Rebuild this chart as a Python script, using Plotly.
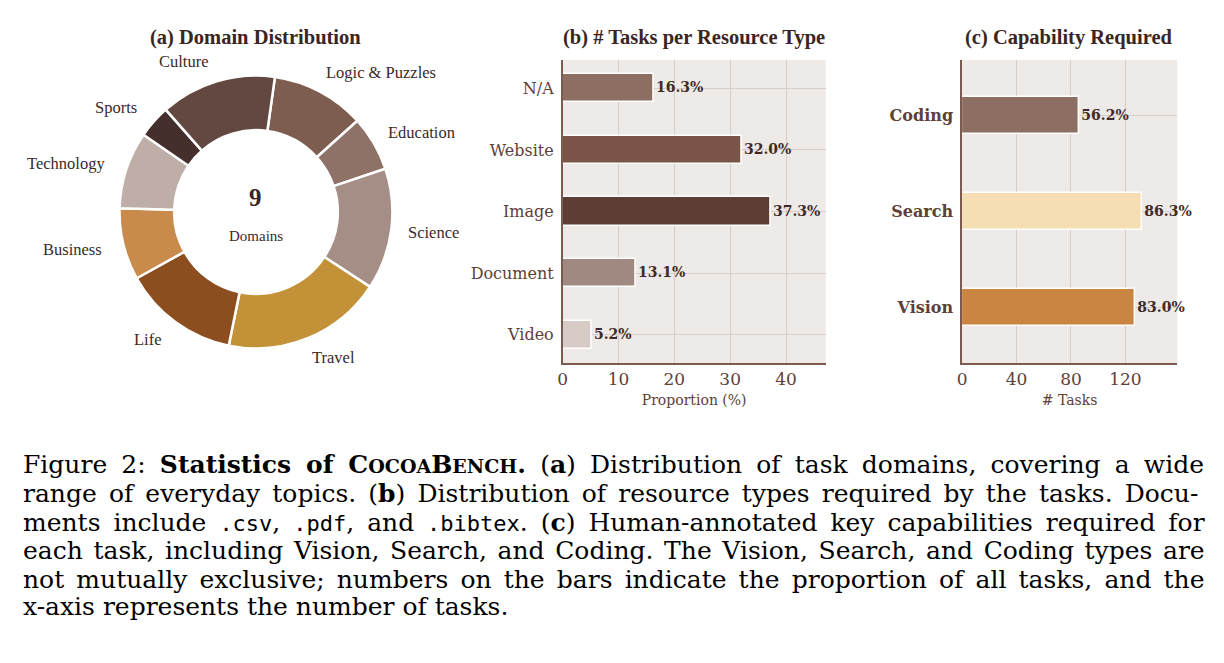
import math
import plotly.graph_objects as go

# ---------------- data ----------------
domains = ["Logic & Puzzles", "Education", "Science", "Travel", "Life",
           "Business", "Technology", "Sports", "Culture"]
domain_counts = [17, 10, 22, 29, 21, 13, 14, 6, 21]
domain_colors = ["#7E5D51", "#8E7268", "#A58E85", "#C29138", "#8C4E1F",
                 "#C98B4B", "#BFADA7", "#452F2D", "#634842"]
n_domains = "9"

resource_types = ["N/A", "Website", "Image", "Document", "Video"]
resource_pct = [16.3, 32.0, 37.3, 13.1, 5.2]
resource_labels = ["16.3%", "32.0%", "37.3%", "13.1%", "5.2%"]
resource_colors = ["#8C6E63", "#7A5447", "#5C3E36", "#A08980", "#D8CBC6"]
resource_ticks = [0, 10, 20, 30, 40]

capabilities = ["Coding", "Search", "Vision"]
capability_tasks = [86, 132, 127]
capability_labels = ["56.2%", "86.3%", "83.0%"]
capability_colors = ["#8C6E63", "#F5DEB3", "#C98541"]
capability_ticks = [0, 40, 80, 120]

MONO = "<span style='font-family:DejaVu Sans Mono;font-size:22px'>{}</span>"
SC = "<span style='font-size:19px'>{}</span>"
caption_lines = [
    "Figure 2: <b>Statistics of C" + SC.format("OCOA") + "B" + SC.format("ENCH") + ".</b> (<b>a</b>) Distribution of task domains, covering a wide",
    "range of everyday topics. (<b>b</b>) Distribution of resource types required by the tasks. Docu-",
    "ments include " + MONO.format(".csv") + ", " + MONO.format(".pdf") + ", and " + MONO.format(".bibtex") + ". (<b>c</b>) Human-annotated key capabilities required for",
    "each task, including Vision, Search, and Coding. The Vision, Search, and Coding types are",
    "not mutually exclusive; numbers on the bars indicate the proportion of all tasks, and the",
    "x-axis represents the number of tasks.",
]
caption_word_spacing = [6.2, 4.2, 5.0, 2.7, 4.2, 0]

# ---------------- geometry / style ----------------
W, H = 1224, 663
def px(x):
    return x / W
def py(y):
    return 1 - y / H

BG = "#EEEAE7"
GRID = "#D9CDC9"
AXIS = "#7D5A50"
TICK = "#5E4039"
TITLE = "#3B2522"
VAL = "#3F2A26"
SERIF = "Liberation Serif"
DJ = "DejaVu Serif"

cx, cy, R = 252, 212, 137
rotation = 8

fig = go.Figure()

fig.add_trace(go.Pie(
    labels=domains, values=domain_counts, sort=False, direction="clockwise",
    rotation=rotation, hole=0.6, textinfo="none", hoverinfo="label+value",
    marker=dict(colors=domain_colors, line=dict(color="white", width=2.5)),
    domain=dict(x=[px(cx - R), px(cx + R)], y=[py(cy + R), py(cy - R)]),
    showlegend=False,
))

def ann(x, y, text, size, color, family=SERIF, xanchor="center", yanchor="middle", xshift=0):
    return dict(x=px(x), y=py(y), xref="paper", yref="paper", text=text, showarrow=False,
                xanchor=xanchor, yanchor=yanchor, align="left", xshift=xshift,
                font=dict(family=family, size=size, color=color))

annotations = []
# pie labels computed from the data
total = sum(domain_counts)
cum = 0
for name, v in zip(domains, domain_counts):
    mid = rotation + 360 * (cum + v / 2) / total
    cum += v
    a = math.radians(mid)
    lx = cx + 1.15 * R * math.sin(a)
    ly = cy - 1.15 * R * math.cos(a)
    right = math.sin(a) > 0
    annotations.append(ann(lx, ly, name, 16.5, "#3A2A28",
                           xanchor="left" if right else "right",
                           xshift=-6 if right else 0))

annotations += [
    ann(cx, 197, "<b>" + n_domains + "</b>", 25, TITLE),
    ann(cx, 236, "Domains", 15, "#3A2A28"),
    ann(252, 37, "<b>(a) Domain Distribution</b>", 20.5, TITLE),
    ann(692, 37, "<b>(b) # Tasks per Resource Type</b>", 20.5, TITLE),
    ann(1068, 37, "<b>(c) Capability Required</b>", 20.5, TITLE),
]

fig.add_trace(go.Bar(
    x=resource_pct, y=resource_types, orientation="h", xaxis="x", yaxis="y",
    marker=dict(color=resource_colors, line=dict(color="white", width=1.5)),
    width=0.46, text=resource_labels, textposition="outside", cliponaxis=False,
    constraintext="none",
    textfont=dict(family=DJ, size=14, color=VAL, weight="bold"), showlegend=False,
))

fig.add_trace(go.Bar(
    x=capability_tasks, y=capabilities, orientation="h", xaxis="x2", yaxis="y2",
    marker=dict(color=capability_colors, line=dict(color="white", width=1.5)),
    width=0.39, text=capability_labels, textposition="outside", cliponaxis=False,
    constraintext="none",
    textfont=dict(family=DJ, size=14, color=VAL, weight="bold"), showlegend=False,
))

common_x = dict(showgrid=True, gridcolor=GRID, gridwidth=1, showline=True, linecolor=AXIS,
                linewidth=1.5, zeroline=False, ticks="", tickfont=dict(family=DJ, size=17, color=TICK),
                fixedrange=True)
common_y = dict(showgrid=True, gridcolor=GRID, gridwidth=1, showline=True, linecolor=AXIS,
                linewidth=1.5, zeroline=False, ticks="", fixedrange=True, ticklabelstandoff=4)

fig.update_layout(
    width=W, height=H, autosize=False,
    margin=dict(l=0, r=0, t=0, b=0),
    paper_bgcolor="white", plot_bgcolor=BG,
    bargap=0,
    xaxis=dict(domain=[px(560), px(824)], range=[0, 47.1], tickvals=resource_ticks,
               anchor="y", title=dict(text="Proportion (%)", font=dict(family=DJ, size=14, color=TICK), standoff=7),
               **common_x),
    yaxis=dict(domain=[py(363), py(60)], anchor="x", categoryorder="array",
               categoryarray=resource_types, range=[4.46, -0.46],
               tickfont=dict(family=DJ, size=16, color=TICK), **common_y),
    xaxis2=dict(domain=[px(961), px(1177)], range=[0, 158], tickvals=capability_ticks,
                anchor="y2", title=dict(text="# Tasks", font=dict(family=DJ, size=14, color=TICK), standoff=7),
                **common_x),
    yaxis2=dict(domain=[py(363), py(60)], anchor="x2", categoryorder="array",
                categoryarray=capabilities, range=[2.58, -0.58],
                tickfont=dict(family=DJ, size=16, color=TICK, weight="bold"), **common_y),
)

caption_y = [465, 493, 522, 550, 579, 606]
for line, yy, ws in zip(caption_lines, caption_y, caption_word_spacing):
    text = "<span style='word-spacing:{}px'>{}</span>".format(ws, line)
    annotations.append(ann(16, yy, text, 25, "black", family=DJ, xanchor="left"))

fig.update_layout(annotations=annotations)

fig.write_html("out.html")
